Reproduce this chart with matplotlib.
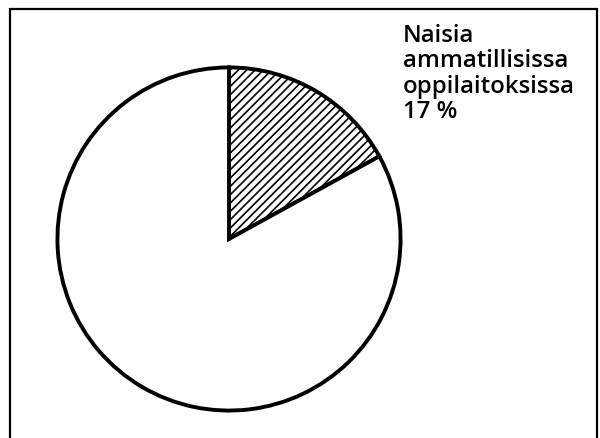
import matplotlib.pyplot as plt
from matplotlib.patches import Rectangle

shares = [17, 83]
label = "Naisia\nammatillisissa\noppilaitoksissa\n17 %"

plt.rcParams['hatch.linewidth'] = 1.2

fig = plt.figure(figsize=(6, 4.39), dpi=100)

# frame around the whole picture
fig.patches.append(Rectangle((10 / 600, -0.01), 587 / 600, 1.01 - 10 / 439,
                             transform=fig.transFigure, fill=False,
                             edgecolor='black', linewidth=1.6))

ax = fig.add_axes([54 / 600, 24 / 439, 350 / 600, 350 / 439])
wedges, _ = ax.pie(shares, startangle=90, counterclock=False,
                   colors=['white', 'white'],
                   wedgeprops=dict(edgecolor='black', linewidth=2.8))
wedges[0].set_hatch('////')
ax.set_xlim(-1.02, 1.02)
ax.set_ylim(-1.02, 1.02)
ax.set_aspect('equal')

fig.text(403 / 600, 1 - 24 / 439, label, ha='left', va='top',
         fontsize=17.3, fontweight='semibold', family='Open Sans',
         linespacing=1.08)

fig.savefig('out.png', dpi=100)
